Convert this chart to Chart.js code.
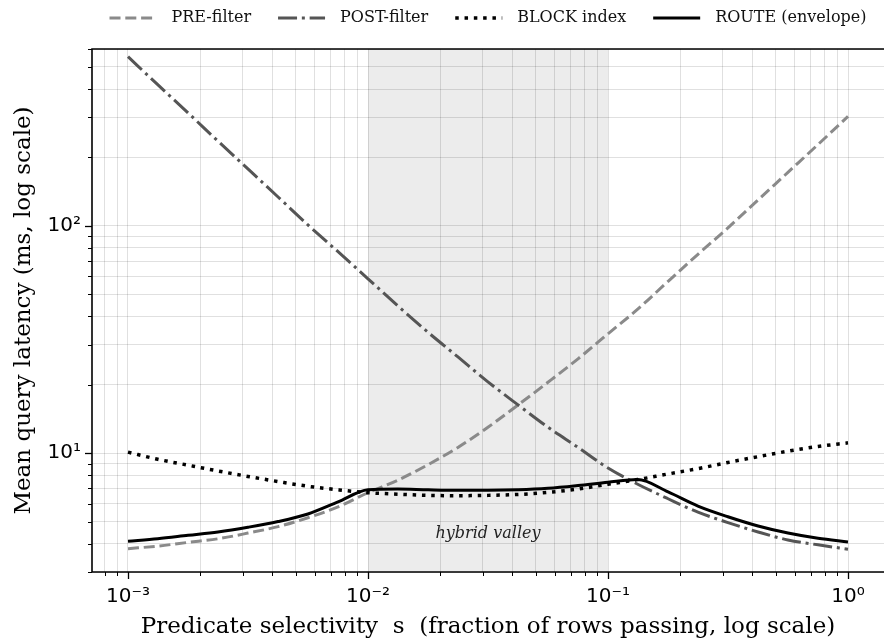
<!DOCTYPE html>
<html>
<head>
<meta charset="utf-8">
<script src="https://cdn.jsdelivr.net/npm/chart.js@4.4.1/dist/chart.umd.min.js"></script>
<style>
  html, body { margin: 0; padding: 0; background: #fff; }
  #wrap { width: 884px; height: 641px; position: relative; }
</style>
</head>
<body>
<div id="wrap"><canvas id="latencyChart"></canvas></div>
<script>
// selectivity s (fraction of rows passing), sampled every 1/8 decade
const selectivity = [0.001, 0.00133, 0.00178, 0.00237, 0.00316, 0.00422, 0.00562, 0.0075,
  0.01, 0.0133, 0.0178, 0.0237, 0.0316, 0.0422, 0.0562, 0.075,
  0.1, 0.133, 0.178, 0.237, 0.316, 0.422, 0.562, 0.75, 1.0];

// mean query latency, ms
const preFilter = [3.8, 3.9, 4.05, 4.2, 4.45, 4.75, 5.2, 5.8,
  6.7, 7.6, 8.9, 10.6, 13.0, 16.3, 20.5, 26,
  33.5, 43, 57, 75, 98, 130, 172, 228, 303];
const postFilter = [555, 418, 314, 236, 178, 134, 101, 77,
  58.5, 44.5, 34, 26.5, 20.6, 16.3, 13.0, 10.6,
  8.6, 7.3, 6.3, 5.5, 4.95, 4.5, 4.15, 3.95, 3.78];
const blockIndex = [10.1, 9.4, 8.85, 8.35, 7.9, 7.5, 7.15, 6.9,
  6.7, 6.6, 6.52, 6.5, 6.52, 6.58, 6.72, 6.95,
  7.3, 7.65, 8.1, 8.55, 9.1, 9.65, 10.2, 10.7, 11.1];
const routeEnvelope = [4.1, 4.2, 4.35, 4.5, 4.72, 5.0, 5.4, 6.1,
  6.9, 6.95, 6.9, 6.87, 6.87, 6.9, 7.0, 7.2,
  7.45, 7.65, 6.75, 5.85, 5.25, 4.78, 4.45, 4.22, 4.07];

const seriesNames = ["PRE-filter", "POST-filter", "BLOCK index", "ROUTE (envelope)"];
const valleyRange = [0.01, 0.1];
const valleyLabel = "hybrid valley";
const valleyLabelY = 4.4;

const xLimits = [Math.pow(10, -3.15), Math.pow(10, 0.15)];
const yLimits = [3, 600];

const SERIF = '"DejaVu Serif", serif';
const SANS = '"DejaVu Sans", sans-serif';
const SUP = { "-": "\u207b", "0": "\u2070", "1": "\u00b9", "2": "\u00b2", "3": "\u00b3",
  "4": "\u2074", "5": "\u2075", "6": "\u2076", "7": "\u2077", "8": "\u2078", "9": "\u2079" };

const isPow10 = (v) => Math.abs(Math.log10(v) - Math.round(Math.log10(v))) < 1e-6;
const isCleanTick = (v) => {
  const m = v / Math.pow(10, Math.floor(Math.log10(v) + 1e-9));
  return Math.abs(m - Math.round(m)) < 1e-6;
};
const powLabel = (v) => "10" + String(Math.round(Math.log10(v))).split("").map(c => SUP[c]).join("");

const pts = (ys) => selectivity.map((s, i) => ({ x: s, y: ys[i] }));

const styles = [
  { data: preFilter, color: "#8a8a8a", width: 3, dash: [11, 4.8] },
  { data: postFilter, color: "#555555", width: 3, dash: [19, 4.8, 3, 4.8] },
  { data: blockIndex, color: "#000000", width: 3.5, dash: [3.5, 5.8] },
  { data: routeEnvelope, color: "#000000", width: 3, dash: [] },
];

// shaded valley + label, drawn under the grid
const valleyPlugin = {
  id: "valley",
  beforeDraw(chart) {
    const { ctx, chartArea: a, scales: { x } } = chart;
    const x0 = x.getPixelForValue(valleyRange[0]);
    const x1 = x.getPixelForValue(valleyRange[1]);
    ctx.save();
    ctx.fillStyle = "#ececec";
    ctx.fillRect(x0, a.top, x1 - x0, a.bottom - a.top);
    ctx.restore();
  },
  beforeDatasetsDraw(chart) {
    const { ctx, scales: { x, y } } = chart;
    const xm = x.getPixelForValue(Math.sqrt(valleyRange[0] * valleyRange[1]));
    ctx.save();
    ctx.font = "italic 16px " + SERIF;
    ctx.fillStyle = "#222";
    ctx.textAlign = "center";
    ctx.textBaseline = "middle";
    ctx.fillText(valleyLabel, xm, y.getPixelForValue(valleyLabelY));
    ctx.restore();
  }
};

// spines and outward tick marks (major + minor), matplotlib style
const framePlugin = {
  id: "frame",
  afterDraw(chart) {
    const { ctx, chartArea: a, scales: { x, y } } = chart;
    ctx.save();
    ctx.strokeStyle = "#000";
    for (let e = -4; e <= 3; e++) {
      for (let k = 1; k <= 9; k++) {
        const v = k * Math.pow(10, e);
        const len = k === 1 ? 7 : 4;
        ctx.lineWidth = k === 1 ? 1.3 : 1;
        if (v >= xLimits[0] && v <= xLimits[1]) {
          const px = Math.round(x.getPixelForValue(v)) + 0.5;
          ctx.beginPath(); ctx.moveTo(px, a.bottom); ctx.lineTo(px, a.bottom + len); ctx.stroke();
        }
        if (v >= yLimits[0] && v <= yLimits[1]) {
          const py = Math.round(y.getPixelForValue(v)) + 0.5;
          ctx.beginPath(); ctx.moveTo(a.left, py); ctx.lineTo(a.left - len, py); ctx.stroke();
        }
      }
    }
    ctx.lineWidth = 1.6;
    ctx.beginPath();
    ctx.moveTo(a.right, a.top); ctx.lineTo(a.left, a.top);
    ctx.lineTo(a.left, a.bottom); ctx.lineTo(a.right, a.bottom);
    ctx.stroke();
    ctx.restore();
  }
};

// legend row above the axes, centred on the plot area
const legendPlugin = {
  id: "lineLegend",
  afterDraw(chart) {
    const { ctx, chartArea: a } = chart;
    const handle = 47, gapText = 15, gapItem = 27, yMid = 18;
    ctx.save();
    ctx.font = "16px " + SERIF;
    const widths = seriesNames.map(n => ctx.measureText(n).width);
    const total = widths.reduce((s, w) => s + handle + gapText + w, 0) + gapItem * (seriesNames.length - 1);
    let cx = (a.left + a.right) / 2 - total / 2;
    seriesNames.forEach((name, i) => {
      const st = styles[i];
      ctx.strokeStyle = st.color;
      ctx.lineWidth = st.width;
      ctx.lineCap = "butt";
      ctx.setLineDash(st.dash);
      ctx.beginPath(); ctx.moveTo(cx, yMid); ctx.lineTo(cx + handle, yMid); ctx.stroke();
      ctx.setLineDash([]);
      ctx.fillStyle = "#111";
      ctx.textBaseline = "middle";
      ctx.fillText(name, cx + handle + gapText, yMid);
      cx += handle + gapText + widths[i] + gapItem;
    });
    ctx.restore();
  }
};

const gridColor = (c) => (c.tick && isCleanTick(c.tick.value)) ? "rgba(0,0,0,0.12)" : "rgba(0,0,0,0)";

// pin the plot area: no extra label padding on the scales
const noLabelPadding = (scale) => {
  scale.paddingLeft = 0; scale.paddingRight = 0;
  scale.paddingTop = 0; scale.paddingBottom = 0;
};

new Chart(document.getElementById("latencyChart"), {
  type: "line",
  data: {
    datasets: styles.map((st, i) => ({
      label: seriesNames[i],
      data: pts(st.data),
      borderColor: st.color,
      borderWidth: st.width,
      borderDash: st.dash,
      borderCapStyle: "butt",
      pointRadius: 0,
      fill: false,
      cubicInterpolationMode: "monotone",
      order: seriesNames.length - i,
    }))
  },
  options: {
    responsive: true,
    maintainAspectRatio: false,
    animation: false,
    layout: { padding: { top: 49, left: 0, right: 0, bottom: 0 } },
    plugins: { legend: { display: false }, tooltip: { enabled: false } },
    scales: {
      x: {
        type: "logarithmic",
        min: xLimits[0],
        max: xLimits[1],
        border: { display: false },
        grid: { color: gridColor, lineWidth: 1, drawTicks: true, tickLength: 7, tickColor: "rgba(0,0,0,0)" },
        ticks: {
          autoSkip: false, maxRotation: 0, minRotation: 0, padding: 6,
          color: "#000", font: { family: SANS, size: 20 },
          callback: (v) => isPow10(v) ? powLabel(v) : ""
        },
        title: {
          display: true, text: "Predicate selectivity  s  (fraction of rows passing, log scale)",
          color: "#000", font: { family: SERIF, size: 23 }, padding: { top: 0, bottom: 0 }
        },
        afterFit: (scale) => { scale.height = 69; noLabelPadding(scale); }
      },
      y: {
        type: "logarithmic",
        min: yLimits[0],
        max: yLimits[1],
        border: { display: false },
        grid: { color: gridColor, lineWidth: 1, drawTicks: true, tickLength: 7, tickColor: "rgba(0,0,0,0)" },
        ticks: {
          autoSkip: false, padding: 4,
          color: "#000", font: { family: SANS, size: 20 },
          callback: (v) => isPow10(v) ? powLabel(v) : ""
        },
        title: {
          display: true, text: "Mean query latency (ms, log scale)",
          color: "#000", font: { family: SERIF, size: 23 }, padding: { top: 10, bottom: 0 }
        },
        afterFit: (scale) => { scale.width = 92; noLabelPadding(scale); }
      }
    }
  },
  plugins: [valleyPlugin, framePlugin, legendPlugin]
});
</script>
</body>
</html>
